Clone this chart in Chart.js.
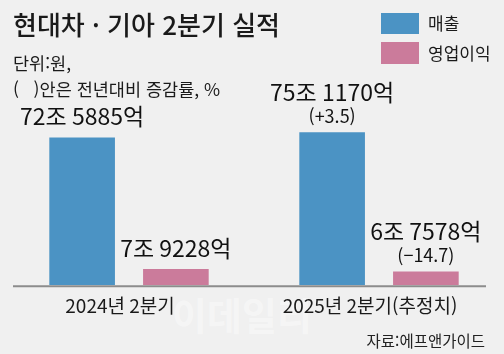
<!DOCTYPE html>
<html lang="ko">
<head>
<meta charset="utf-8">
<script src="https://cdn.jsdelivr.net/npm/chart.js@4.4.1/dist/chart.umd.min.js"></script>
<style>
  body { margin: 0; background: #f0f0f0; font-family: "Noto Sans CJK KR", "Noto Sans", sans-serif; color: #1a1a1a; }
  #wrap { position: relative; width: 504px; height: 354px; overflow: hidden; }
  #wrap canvas { position: absolute; left: 0; top: 0; }
  .txt { position: absolute; white-space: pre; }
  #title { left: 13px; top: 9px; font-size: 26px; line-height: 30px; font-weight: 500; }
  #sub { left: 13px; top: 50px; font-size: 17.5px; line-height: 26px; }
  .box { position: absolute; left: 381px; width: 38px; height: 21px; }
  .leg { left: 428px; font-size: 17px; line-height: 22px; }
  #source { right: 19px; top: 329px; font-size: 15.5px; line-height: 22px; color: #222; }
  #mark { left: 172px; top: 292px; font-size: 38px; line-height: 44px; font-weight: bold; color: rgba(255,255,255,0.4); }
</style>
</head>
<body>
<div id="wrap">
  <div class="txt" id="mark">이데일리</div>
  <canvas id="chart"></canvas>
  <div class="txt" id="title">현대차 · 기아 2분기 실적</div>
  <div class="txt" id="sub">단위:원,
(   )안은 전년대비 증감률, %</div>
  <div class="box" style="top:13px;background:#4b93c4"></div>
  <div class="txt leg" style="top:12px">매출</div>
  <div class="box" style="top:42px;height:22px;background:#cb7b9b"></div>
  <div class="txt leg" style="top:42px">영업이익</div>
  <div class="txt" id="source">자료:에프앤가이드</div>
</div>
<script>
// 단위: 조 원
var periods = ['2024년 2분기', '2025년 2분기(추정치)'];
var sales = [72.5885, 75.1170];
var profit = [7.9228, 6.7578];
var salesChange = [null, 3.5];
var profitChange = [null, -14.7];

var blue = '#4b93c4';
var pink = '#cb7b9b';

function joEok(v) {
    var jo = Math.floor(v);
    var eok = Math.round((v - jo) * 10000);
    return jo + '조 ' + eok + '억';
}

function changeText(c) {
    return '(' + (c >= 0 ? '+' : '\u2212') + Math.abs(c).toFixed(1) + ')';
}

// value labels above bars + bottom rule
var barLabels = {
    id: 'barLabels',
    afterDatasetsDraw: function(chart) {
        var ctx = chart.ctx;
        var changes = [salesChange, profitChange];
        ctx.save();
        ctx.fillStyle = '#111';
        ctx.textAlign = 'center';
        ctx.textBaseline = 'middle';
        chart.data.datasets.forEach(function(ds, di) {
            chart.getDatasetMeta(di).data.forEach(function(bar, i) {
                var c = changes[di][i];
                ctx.font = '23px "Noto Sans CJK KR"';
                if (c === null) {
                    ctx.fillText(joEok(ds.data[i]), bar.x, bar.y - 21);
                } else {
                    ctx.fillText(joEok(ds.data[i]), bar.x, bar.y - 40);
                    ctx.font = '18px "Noto Sans CJK KR"';
                    ctx.fillText(changeText(c), bar.x, bar.y - 16);
                }
            });
        });
        var a = chart.chartArea;
        ctx.strokeStyle = '#8c8c8c';
        ctx.lineWidth = 2;
        ctx.beginPath();
        ctx.moveTo(13, a.bottom + 1);
        ctx.lineTo(486, a.bottom + 1);
        ctx.stroke();
        ctx.restore();
    }
};

var ctx = document.getElementById('chart').getContext('2d');
var chart = new Chart(ctx, {
    type: 'bar',
    data: {
        labels: periods,
        datasets: [{
            label: '매출',
            data: sales,
            backgroundColor: blue
        }, {
            label: '영업이익',
            data: profit,
            backgroundColor: pink
        }]
    },
    options: {
        responsive: true,
        maintainAspectRatio: false,
        animation: false,
        categoryPercentage: 0.75,
        barPercentage: 0.7,
        layout: { padding: { top: 100, left: 4, right: -6, bottom: 28 } },
        plugins: {
            legend: { display: false },
            tooltip: { enabled: false }
        },
        scales: {
            x: {
                grid: { display: false, drawTicks: false },
                border: { display: false },
                ticks: {
                    color: '#1a1a1a',
                    padding: 9,
                    labelOffset: -9,
                    font: { family: 'Noto Sans CJK KR', size: 19 }
                }
            },
            y: {
                display: false,
                min: 0,
                max: 91
            }
        }
    },
    plugins: [barLabels]
});
</script>
</body>
</html>
